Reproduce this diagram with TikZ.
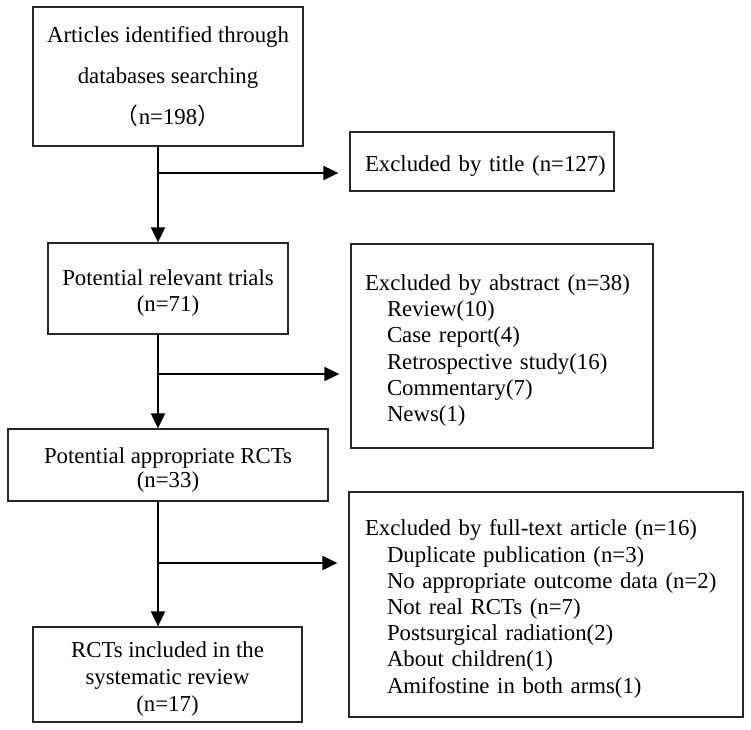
\documentclass[tikz,border=0pt]{standalone}
\usepackage{fontspec}
\setmainfont{Liberation Serif}
\newfontfamily\cjk{Noto Sans CJK SC}
\usetikzlibrary{arrows.meta}
\newcommand\tfix{\rule{0pt}{25pt}}
\begin{document}
\begin{tikzpicture}[x=1pt,y=-1pt,
  box/.style={draw=black!85, line width=1.3pt, rectangle, inner sep=0pt, align=center,
    font=\fontsize{22.8}{26.5}\selectfont},
  lbox/.style={draw=black!85, line width=1.3pt, rectangle, inner ysep=0pt, align=left,
    font=\fontsize{22.8}{26.2}\selectfont},
  conn/.style={line width=2pt, -{Triangle[length=15pt,width=14pt]}},
  side/.style={conn, shorten >=11pt}]
\fill[white] (0,0) rectangle (751,729);
\useasboundingbox (0,0) rectangle (751,729);

% main column
\node[box, minimum width=270pt, minimum height=139pt, font=\fontsize{22.8}{41}\selectfont]
  (b1) at (168,76.5) {Articles identified through\\databases searching\\{\cjk （}n=198{\cjk ）}};
\node[box, minimum width=240pt, minimum height=91pt] (b2) at (168,288.5)
  {\tfix Potential relevant trials\\(n=71)};
\node[box, minimum width=320pt, minimum height=72pt, font=\fontsize{22.8}{24}\selectfont]
  (b3) at (168,465) {\tfix Potential appropriate RCTs\\(n=33)};
\node[box, minimum width=269pt, minimum height=95pt, font=\fontsize{22.8}{27}\selectfont]
  (b4) at (167.5,674.5) {\tfix RCTs included in the\\systematic review\\(n=17)};

% exclusion boxes
\node[lbox, text width=234pt, inner xsep=15pt, minimum height=59pt] (e1) at (482,161.5)
  {\tfix\mbox{Excluded by title (n=127)}};
\node[lbox, text width=274pt, inner xsep=14pt, minimum height=204pt] (e2) at (502,346)
  {\tfix Excluded by abstract (n=38)\\
   \hspace*{22pt}Review(10)\\
   \hspace*{22pt}Case report(4)\\
   \hspace*{22pt}Retrospective study(16)\\
   \hspace*{22pt}Commentary(7)\\
   \hspace*{22pt}News(1)};
\node[lbox, text width=362pt, inner xsep=16pt, minimum height=225pt] (e3) at (546,604.5)
  {\tfix Excluded by full-text article (n=16)\\
   \hspace*{22pt}Duplicate publication (n=3)\\
   \hspace*{22pt}No appropriate outcome data (n=2)\\
   \hspace*{22pt}Not real RCTs (n=7)\\
   \hspace*{22pt}Postsurgical radiation(2)\\
   \hspace*{22pt}About children(1)\\
   \hspace*{22pt}Amifostine in both arms(1)};

% junctions
\coordinate (j1) at (158,173);
\coordinate (j2) at (158,374);
\coordinate (j3) at (158,563);

% connectors
\draw[conn] (b1.south -| j1) -- (b2.north -| j1);
\draw[conn] (b2.south -| j2) -- (b3.north -| j2);
\draw[conn] (b3.south -| j3) -- (b4.north -| j3);
\draw[side] (j1) -- (e1.west |- j1);
\draw[side] (j2) -- (e2.west |- j2);
\draw[side] (j3) -- (e3.west |- j3);
\end{tikzpicture}
\end{document}
